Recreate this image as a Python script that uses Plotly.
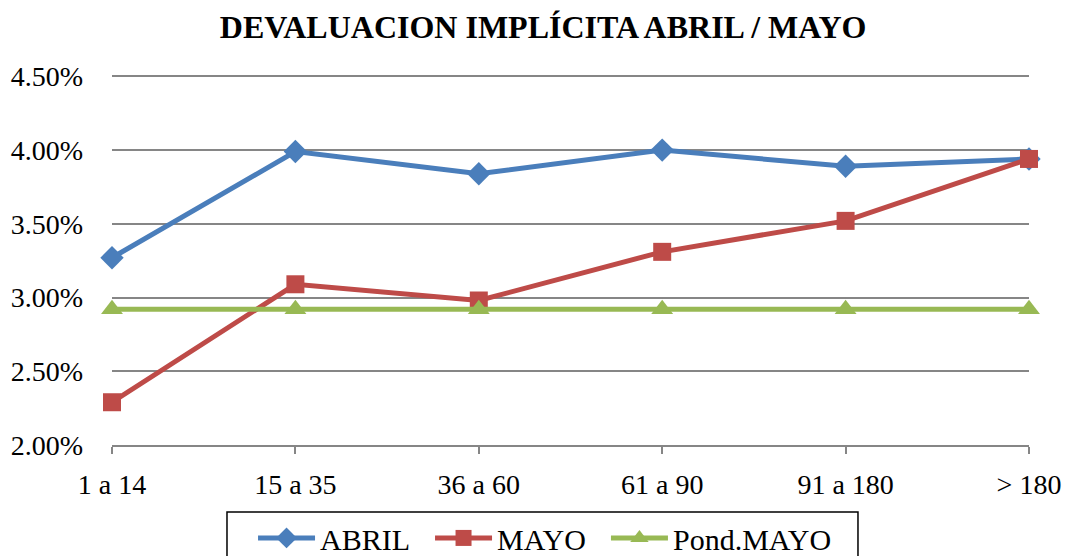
import plotly.graph_objects as go

categories = ["1 a 14", "15 a 35", "36 a 60", "61 a 90", "91 a 180", "> 180"]
abril = [3.27, 3.99, 3.84, 4.00, 3.89, 3.94]
mayo = [2.29, 3.09, 2.98, 3.31, 3.52, 3.94]
pond_mayo = [2.92, 2.92, 2.92, 2.92, 2.92, 2.92]
series_names = ["ABRIL", "MAYO", "Pond.MAYO"]
y_ticks = [2.0, 2.5, 3.0, 3.5, 4.0, 4.5]
y_tick_labels = ["2.00%", "2.50%", "3.00%", "3.50%", "4.00%", "4.50%"]

FONT = "'Liberation Serif', 'Times New Roman', Times, serif"
GRID = "#868686"
PAD = "\u00a0\u00a0"

fig = go.Figure()
fig.add_trace(go.Scatter(x=categories, y=abril, name=series_names[0] + PAD, mode="lines+markers",
                         line=dict(color="#4A7EBB", width=5),
                         marker=dict(symbol="diamond", size=18, color="#4A7EBB"),
                         cliponaxis=False))
fig.add_trace(go.Scatter(x=categories, y=mayo, name=series_names[1] + PAD, mode="lines+markers",
                         line=dict(color="#BE4B48", width=5),
                         marker=dict(symbol="square", size=18, color="#BE4B48"),
                         cliponaxis=False))
fig.add_trace(go.Scatter(x=categories, y=pond_mayo, name=series_names[2], mode="lines+markers",
                         line=dict(color="#98B954", width=5),
                         marker=dict(symbol="triangle-up", size=19, color="#98B954"),
                         cliponaxis=False))

# legend frame
fig.add_shape(type="rect", xref="paper", yref="paper",
              x0=0.1254, x1=0.8135, y0=-0.36, y1=-0.178,
              line=dict(color="black", width=1.5), fillcolor="white", layer="below")

fig.update_layout(
    width=1067, height=556,
    margin=dict(l=112, r=38, t=69, b=111, autoexpand=False),
    paper_bgcolor="white", plot_bgcolor="white",
    font=dict(family=FONT, size=28, color="black"),
    title=dict(text="<b>DEVALUACION IMPLÍCITA ABRIL / MAYO</b>",
               font=dict(family=FONT, size=32, color="black"),
               x=0.509, xanchor="center", y=0.952, yanchor="middle"),
    showlegend=True,
    legend=dict(orientation="h", x=0.1538, xanchor="left", y=-0.178, yanchor="top",
                borderwidth=0, bgcolor="rgba(0,0,0,0)",
                font=dict(family=FONT, size=30, color="black"),
                itemwidth=57, tracegroupgap=0),
)
fig.update_xaxes(type="category", range=[0, 5], showgrid=False,
                 showline=True, linecolor=GRID, linewidth=2,
                 ticks="outside", ticklen=7, tickcolor=GRID, tickwidth=2,
                 tickfont=dict(family=FONT, size=28, color="black"),
                 ticklabelstandoff=6, zeroline=False)
fig.update_yaxes(range=[2.0, 4.55], tickvals=y_ticks, ticktext=y_tick_labels,
                 showgrid=True, gridcolor=GRID, gridwidth=2,
                 showline=False, ticks="", zeroline=False,
                 tickfont=dict(family=FONT, size=28, color="black"),
                 ticklabelstandoff=28)

fig.write_html("out.html", config={"displayModeBar": False},
               post_script="document.body.style.margin='0';")
